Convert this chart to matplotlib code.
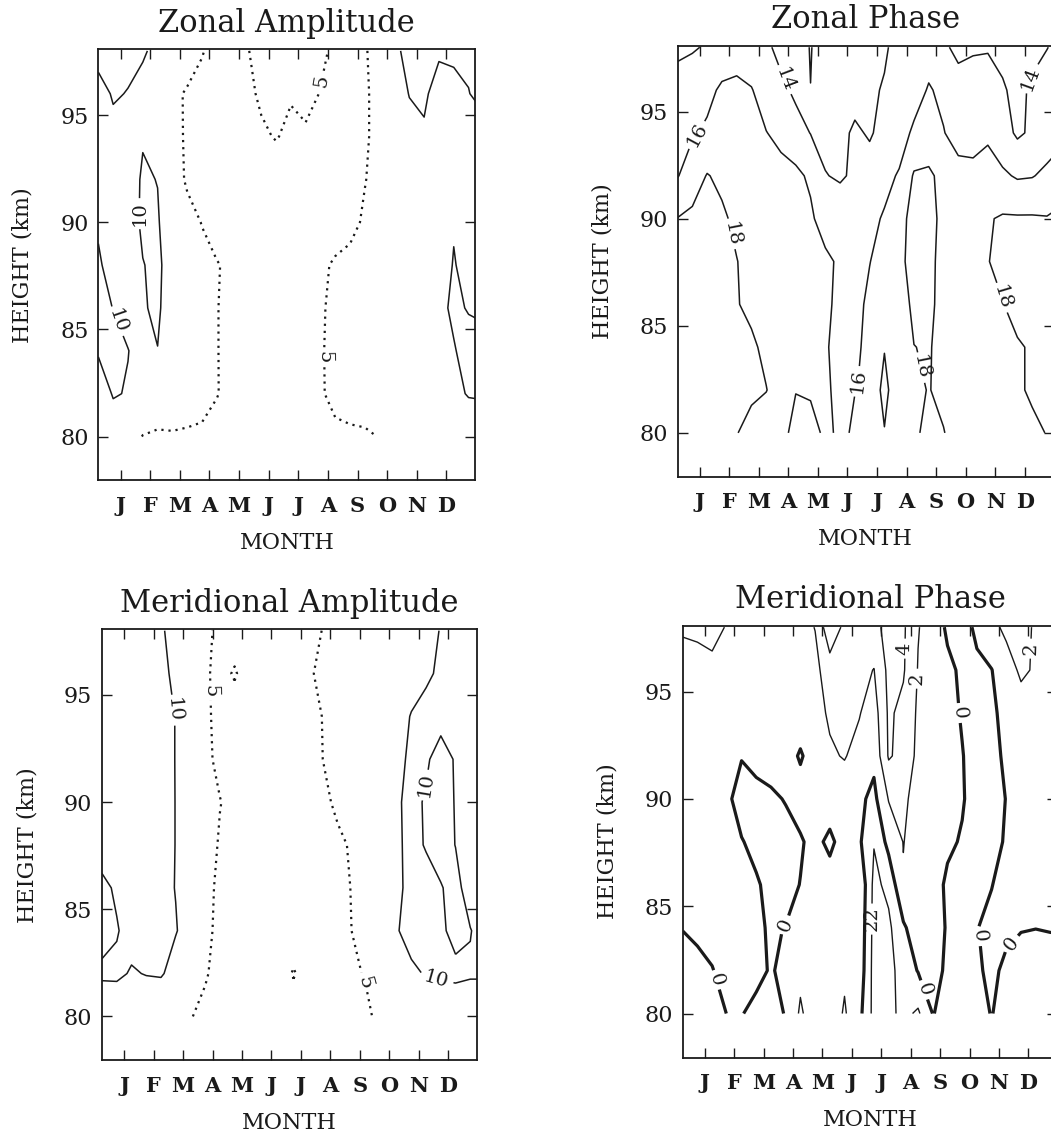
import numpy as np
import matplotlib
matplotlib.use("Agg")
import matplotlib.pyplot as plt

plt.rcParams['font.family'] = ['DejaVu Serif']

# analysis grid: half-month columns, 2 km rows
month_grid = np.arange(0.25, 13.26, 0.5)
height_grid = np.arange(80, 99, 2)

month_labels = ['J', 'F', 'M', 'A', 'M', 'J', 'J', 'A', 'S', 'O', 'N', 'D']
height_ticks = [80, 85, 90, 95]

# zonal tidal amplitude (m/s), rows from 80 km to 98 km
zonal_amplitude = [
    [7, 7, 6.5, 4.9, 4.5, 4.7, 4.6, 4.6, 4.2, 3.5, 3, 2.8, 2.6, 2.8, 3.2, 4, 4.6, 4.6, 4.6, 5.1, 6, 6.5, 7, 7, 7, 7, 7],
    [7, 10.4, 9.7, 8, 7.5, 7, 6.5, 5.8, 5.1, 4.3, 3.5, 3, 2.8, 3, 3.5, 4.8, 5.5, 6, 6.5, 7, 7.5, 7.5, 7.5, 8, 9, 10.3, 10.5],
    [10.5, 11.5, 10.1, 8.5, 9.9, 7.5, 6.5, 5.8, 5.1, 4.2, 3.5, 3, 2.8, 3, 3.5, 4.8, 5.6, 6.5, 7, 7.3, 7.5, 7.5, 7.8, 8.2, 9.6, 12, 12],
    [11.5, 9.9, 8.5, 9.6, 10.8, 7, 6.5, 5.8, 5.1, 4.2, 3.5, 3, 2.8, 3, 3.5, 4.7, 5.6, 6.5, 7, 7.3, 7.5, 7.5, 7.8, 8.5, 11, 9.65, 9],
    [11, 7, 8, 9.9, 10.6, 8.5, 6.5, 5.8, 5.2, 4.3, 3.5, 3, 2.8, 3, 3.5, 4.4, 5.4, 5.8, 6.5, 7, 7.5, 7.5, 7.5, 7.3, 10.3, 8.4, 8.5],
    [9, 8.5, 8.5, 10.5, 10.4, 7, 6, 4.9, 3.5, 2.8, 2.5, 2.5, 2.5, 2.6, 2.8, 3, 3.5, 4.2, 5.4, 6.5, 7.5, 8, 8, 8, 9.6, 9, 9],
    [8, 8, 8, 10.5, 9.9, 6.5, 4.6, 3.5, 3, 2.8, 2.8, 3, 3.2, 3.2, 3.2, 3.3, 3.5, 3.8, 4.9, 6, 7.5, 8, 8, 8, 8, 8, 8],
    [8, 7.75, 8, 9.7, 9.5, 6, 4.6, 3.5, 3, 3, 3.2, 4.5, 5.2, 4.2, 4.6, 4, 3.5, 3.8, 4.6, 6, 8, 9, 9.5, 9, 8.5, 8.5, 8.64],
    [7, 10.75, 9.7, 7.5, 7, 5.9, 4.6, 4, 3.5, 3.5, 4.2, 5.5, 6.5, 5.3, 5.8, 4.9, 3.8, 3.5, 4.4, 6.5, 8.5, 10.1, 10.6, 8.5, 9.2, 9.9, 11],
    [13, 13, 12, 10.9, 8, 8, 7, 5.2, 3.8, 3, 4.7, 6.3, 7, 7, 6.5, 5.5, 4.5, 4, 4.6, 7, 9.3, 11, 11.5, 10.5, 10.5, 10.6, 10.8],
]

# zonal tidal phase (hours)
zonal_phase = [
    [19.5, 19.3, 19, 18.6, 18.1, 17.1, 17, 17, 19, 18.6, 17.7, 14.6, 16.9, 17.5, 17.9, 17.3, 17.6, 18.6, 18.1, 17, 16.8, 17, 17.3, 17.6, 17.7, 18.05, 18.6],
    [19.3, 19.3, 19.2, 19, 18.8, 18.5, 18.05, 17.2, 17.9, 17.8, 16.3, 15.5, 15.9, 16.5, 18.6, 16.5, 17.5, 18.1, 17.4, 17, 17.1, 17.4, 17.6, 17.8, 18.2, 18.6, 18.8],
    [19.5, 19.4, 19.2, 19, 18.7, 18.3, 17.6, 17.3, 17, 16.7, 16.15, 15.5, 15.5, 16.7, 17.9, 17.4, 17.98, 18.1, 17.6, 17.2, 17.3, 17.6, 17.9, 17.85, 18.15, 18.6, 18.8],
    [19.5, 19.4, 19.2, 18.9, 18.1, 17.6, 17.3, 17.1, 16.9, 16.7, 16.4, 15.5, 15.4, 16.4, 16.9, 17.3, 18.3, 18.4, 17.4, 17, 17.2, 17.6, 17.95, 18.5, 18.8, 19, 19],
    [19, 19, 18.8, 18.5, 18.05, 17.4, 17.2, 17, 16.8, 16.6, 16.4, 15.7, 15.5, 15.95, 16.8, 17.6, 18.6, 18.4, 17.5, 17, 17.3, 17.95, 18.4, 18.6, 18.8, 19, 19],
    [18.05, 18.4, 18.6, 18.3, 17.6, 17.3, 17.1, 16.9, 16.6, 16.3, 15.15, 15.5, 15.3, 15.5, 16.2, 17.5, 18.5, 18.5, 17.6, 17.2, 17.3, 17.85, 18.2, 18.2, 18.2, 18.1, 18.5],
    [15.9, 17, 18.1, 17.6, 17.3, 17, 16.8, 16.6, 16.4, 15.7, 14.1, 13.7, 14.4, 14.8, 15.4, 16.2, 18.2, 18.3, 17.5, 16.8, 16.5, 16.5, 16.3, 15.8, 15.9, 16.4, 16.8],
    [15.5, 15.8, 16.3, 16.8, 17, 16.6, 16.05, 15.5, 14.8, 13.95, 13.3, 13.5, 14.3, 13.8, 14.6, 15, 16.4, 16.9, 16.1, 15.1, 15.3, 15.8, 14.8, 13.7, 14.3, 15, 15.6],
    [15, 15.2, 15.5, 16.3, 16.5, 16.1, 15.1, 14.5, 13.6, 12.02, 13, 13, 13.3, 13.6, 14.2, 14.6, 15, 16.2, 15.5, 15, 14.8, 14.6, 14.2, 13.5, 14.3, 14.8, 15],
    [13.5, 13.8, 14.2, 14.8, 15, 14.8, 14.4, 13.35, 13, 11.9, 13, 13, 13, 13.2, 13.7, 14.8, 15, 15, 14.4, 13.4, 13.8, 13.9, 13.5, 13, 13.5, 13.95, 14.5],
]

# meridional tidal amplitude (m/s)
meridional_amplitude = [
    [6, 6, 6, 6, 6, 6.5, 5.1, 4.5, 3.8, 3.2, 2.8, 2.6, 2.6, 2.8, 3, 3.4, 3.8, 4.2, 4.6, 5.8, 7, 8, 8, 8, 8, 8, 8],
    [10.8, 10.9, 9.6, 10.2, 10.4, 8.5, 7, 5.2, 4.3, 3.6, 3, 2.8, 3.2, 5.3, 3.4, 3.6, 4, 4.5, 5.3, 6.5, 8, 9.5, 10.2, 10.4, 10.57, 10.3, 10.3],
    [8.5, 9.7, 11.6, 11.5, 11, 10.2, 8.5, 5.5, 4.5, 3.8, 3.2, 2.8, 2.8, 3, 3.2, 3.6, 4.2, 5.05, 6.5, 8, 9.8, 11, 11, 10.4, 9.3, 9.9, 11],
    [9, 10.6, 11.5, 11.5, 11, 9.9, 8, 5.6, 4.6, 3.8, 3.2, 2.8, 2.8, 3, 3.3, 3.8, 4.4, 5.1, 6.5, 8, 9.4, 10.8, 11, 10.15, 9.2, 11.2, 11.5],
    [12, 12, 11.5, 11.5, 11, 9.95, 8, 6.5, 4.7, 3.8, 3.2, 2.8, 2.8, 3, 3.4, 3.9, 4.5, 5.3, 6.5, 8, 9.5, 10.8, 9.8, 9, 10.05, 11, 11.5],
    [12.5, 12.5, 12, 11.5, 11, 9.95, 8, 6.5, 5.1, 4.1, 3.2, 2.8, 2.8, 3, 3.6, 4.4, 5.5, 7, 8, 8.8, 9.6, 10.8, 9.7, 9.2, 10.1, 11, 11.5],
    [13, 13, 12.5, 12, 11.5, 9.9, 7.5, 5.7, 4.3, 3.5, 3, 2.8, 2.8, 3, 3.8, 5.02, 6, 7, 7.8, 8.5, 9.4, 10.4, 10.4, 8.8, 10.25, 11, 11.5],
    [13, 13, 12.5, 12, 11.5, 9.9, 7.5, 5.4, 4.4, 3.5, 3, 2.8, 2.8, 3, 3.8, 5.1, 6.5, 7.5, 8, 8.5, 9.2, 10.1, 10.8, 11, 11.5, 11.5, 12],
    [13, 13, 12.5, 12, 11.2, 9, 7, 5.5, 4, 5.3, 3.5, 3, 3, 3.5, 4.4, 6, 7, 7.5, 8, 8.5, 9, 9.2, 9.6, 10.4, 11, 11.5, 12],
    [13, 13, 12.5, 12, 10.5, 8.5, 7, 6, 4, 3.5, 3, 3, 3, 3.2, 4, 5.1, 6, 7, 7.5, 8, 8.5, 9, 9.3, 10.1, 11, 11.5, 12],
]

# meridional tidal phase (hours relative to midnight; -2 is 22 h)
meridional_phase = [
    [-0.8, -0.7, -0.5, 0.02, 0.05, -0.3, -0.3, 0.05, 2.3, 0.8, 0.9, 2.2, 0.6, -2.6, -2.5, -1.5, -2.3, 0.05, -0.4, -0.6, -0.4, 0.05, -0.5, -0.6, -0.6, -0.6, -0.6],
    [-0.6, -0.4, -0.05, 0.4, 0.4, 0.3, -0.1, 0.3, 1.5, 0.8, 0.9, 1.7, 1.3, -2.7, -2.6, -1.2, 0.1, 0.4, -0.2, -0.6, -0.2, 0.3, -0.3, -0.4, -0.6, -0.4, -0.4],
    [0.05, 0.3, 0.4, 0.5, 0.5, 0.3, -0.2, 0.05, 0.5, 0.8, 1, 1.2, 1.5, -2.6, -2.4, -0.3, 1.2, 0.5, -0.1, -0.5, -0.05, 0.4, 0.3, 0.05, 0.02, 0.05, 0.05],
    [0.7, 0.7, 0.6, 0.5, 0.3, 0.2, -0.5, -0.6, 0.05, 0.7, 1, 1.2, 1.8, -2.5, -1.5, 1.85, 1.1, 0.5, -0.2, -0.6, -0.5, -0.05, 0.6, 0.9, 1, 1, 1],
    [0.8, 0.8, 0.7, 0.5, 0.1, -0.5, -0.7, -0.6, -0.2, 0.6, -0.5, 1, 0.3, -1.9, 0.64, 2.05, 1.2, 0.6, 0.2, -0.1, -0.6, -0.6, 0.2, 0.8, 1, 1, 1],
    [0.9, 0.9, 0.8, 0.4, -0.8, -0.6, -0.3, 0.1, 0.8, 1, 1.2, 1.1, 0.4, -0.5, 2.1, 2.3, 1.4, 0.8, 0.5, 0.1, -0.5, -0.7, 0.05, 0.8, 1, 1, 1],
    [1, 1, 1, 0.8, 0.1, 0.6, 0.8, 0.8, -0.2, 0.9, 1.8, 2.1, 1.43, 0.5, 4.2, 3.4, 1.5, 0.8, 0.5, 0.05, -0.5, -0.5, 0.3, 1, 1.2, 1.2, 1.2],
    [1, 1, 1.2, 1.2, 1.1, 1, 0.9, 0.9, 1, 1.5, 2.2, 2.6, 2.1, 1.1, 4.3, 3.5, 1.7, 0.9, 0.4, -0.1, -0.5, -0.3, 0.5, 1.2, 1.3, 1.3, 1.3],
    [1, 1.07, 1.6, 1.5, 1.3, 1.2, 1.1, 1.1, 1.3, 1.5, 3, 2.8, 2.5, 1.95, 4.5, 4.2, 1.9, 1.0, 0.4, -0.3, -0.2, -0.05, 1.2, 2.3, 1.8, 1.5, 1.5],
    [2.3, 2.5, 2.5, 1.9, 1.5, 1.3, 1.2, 1.2, 1.4, 2.05, 5.5, 3.5, 3, 3.3, 4.8, 4.3, 2.1, 1.1, -0.3, -0.4, 0.2, 1.5, 2.4, 2.5, 1.8, 1.5, 1.5],
]

amplitude_levels = [5, 10]
zonal_phase_levels = [12, 14, 16, 18]
meridional_phase_levels = [-2, 0, 2, 4]
phase_names = {-2: '22', 0: '0', 2: '2', 4: '4'}

DOT = (0, (1, 2.2))
INK = '#1a1a1a'

fig = plt.figure(figsize=(10.51, 11.32), dpi=100)
fig.patch.set_facecolor('white')

panels = [
    dict(rect=[0.0936, 0.5756, 0.3587, 0.3808], title='Zonal Amplitude'),
    dict(rect=[0.6447, 0.5788, 0.3579, 0.3808], title='Zonal Phase'),
    dict(rect=[0.0971, 0.0633, 0.3568, 0.3809], title='Meridional Amplitude'),
    dict(rect=[0.6496, 0.0658, 0.3563, 0.3815], title='Meridional Phase'),
]
axes = [fig.add_axes(p['rect']) for p in panels]


def frame(ax, title):
    ax.set_xlim(0.25, 12.98)
    ax.set_ylim(77.95, 98.07)
    ax.set_xticks(range(1, 13))
    ax.set_xticklabels(month_labels, fontsize=15, fontweight='bold')
    ax.set_yticks(height_ticks)
    ax.tick_params(axis='both', direction='in', top=True, right=True,
                   length=7, width=1.0, colors=INK)
    ax.tick_params(axis='x', pad=11)
    ax.tick_params(axis='y', pad=7, labelsize=16)
    for s in ax.spines.values():
        s.set_linewidth(1.3)
        s.set_color(INK)
    ax.set_xlabel('MONTH', fontsize=16, color=INK)
    ax.xaxis.set_label_coords(0.5, -0.145)
    ax.xaxis.label.set_va('center')
    ax.set_ylabel('HEIGHT (km)', fontsize=16, color=INK)
    ax.yaxis.set_label_coords(-0.2, 0.5)
    ax.yaxis.label.set_va('center')
    ax.text(0.5, 1.06, title, transform=ax.transAxes, ha='center',
            va='center', fontsize=22, color=INK)


def fmt_num(v):
    return '%d' % v


# Zonal amplitude
ax = axes[0]
cs = ax.contour(month_grid, height_grid, np.array(zonal_amplitude),
                levels=amplitude_levels, colors=INK,
                linewidths=[1.6, 1.1], linestyles=[DOT, '-'])
ax.clabel(cs, manual=[(1.6, 90.4), (0.7, 85.3), (7.85, 96.6), (7.9, 83.7)],
          inline=True, fmt=fmt_num, fontsize=14)
frame(ax, panels[0]['title'])

# Zonal phase
ax = axes[1]
cs = ax.contour(month_grid, height_grid, np.array(zonal_phase),
                levels=zonal_phase_levels, colors=INK, linewidths=1.1)
ax.clabel(cs, manual=[(0.9, 93.9), (2.13, 89.3), (3.9, 96.5), (6.3, 82.4),
                      (8.3, 83.0), (11.2, 86.3), (12.05, 96.6)],
          inline=True, fmt=fmt_num, fontsize=14)
frame(ax, panels[1]['title'])

# Meridional amplitude
ax = axes[2]
cs = ax.contour(month_grid, height_grid, np.array(meridional_amplitude),
                levels=amplitude_levels, colors=INK,
                linewidths=[1.6, 1.1], linestyles=[DOT, '-'])
ax.clabel(cs, manual=[(2.75, 94.3), (3.9, 95.2), (11.2, 90.8), (11.67, 82.1),
                      (9.2, 81.6)],
          inline=True, fmt=fmt_num, fontsize=14)
frame(ax, panels[2]['title'])

# Meridional phase: 0 h drawn heavy, all levels solid
ax = axes[3]
cs = ax.contour(month_grid, height_grid, np.array(meridional_phase),
                levels=meridional_phase_levels, colors=INK,
                linewidths=[1.0, 2.3, 1.0, 1.0],
                linestyles='solid', negative_linestyles='solid')
ax.clabel(cs, manual=[(1.5, 81.6), (3.65, 84.2), (8.46, 81.1), (9.65, 94.0),
                      (10.3, 83.6), (11.26, 83.4), (6.65, 84.4), (7.8, 97.0),
                      (8.2, 95.6), (12.07, 97.0)],
          inline=True, fmt=phase_names, fontsize=14)
frame(ax, panels[3]['title'])

fig.savefig('out.png', dpi=100, facecolor='white')
